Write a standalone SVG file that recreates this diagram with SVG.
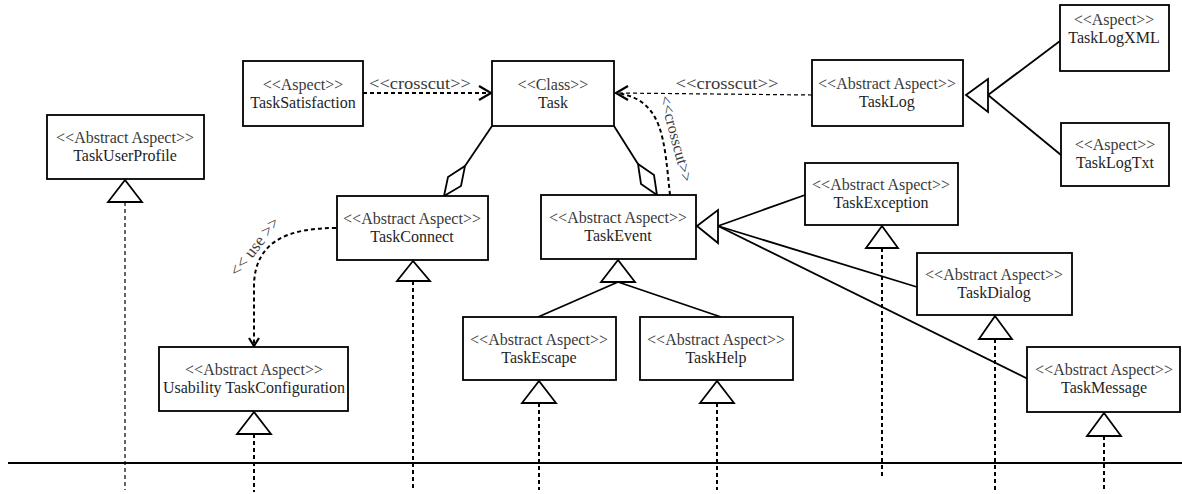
<svg xmlns="http://www.w3.org/2000/svg" width="1182" height="494" viewBox="0 0 1182 494">
<style>
.box{fill:#fff;stroke:#000;stroke-width:1.8}
.st{font-family:"Liberation Serif","Times New Roman",serif;font-size:16px;fill:#3a3a3a;text-anchor:middle}
.nm{font-family:"Liberation Serif","Times New Roman",serif;font-size:16px;fill:#1e1e1e;text-anchor:middle}
.lbl{font-family:"Liberation Serif","Times New Roman",serif;font-size:17px;fill:#3a3a3a;text-anchor:middle}
.solid{fill:none;stroke:#000;stroke-width:1.8}
.tri{fill:#fff;stroke:#000;stroke-width:1.8;stroke-linejoin:miter}
.dash{fill:none;stroke:#000;stroke-width:2;stroke-dasharray:4 3}
.dashthin{fill:none;stroke:#000;stroke-width:1.2;stroke-dasharray:4 3}
.head{fill:none;stroke:#000;stroke-width:2.2;stroke-linejoin:miter}
</style>

<g id="connectors">
  <!-- baseline -->
  <line class="solid" x1="8" y1="463" x2="1182" y2="463" stroke-width="2"/>

  <!-- crosscut TaskSatisfaction -> Task -->
  <line class="dash" x1="363" y1="93" x2="490" y2="93"/>
  <polyline class="head" points="479,86 491,93 479,100"/>
  <text class="lbl" x="420" y="89" textLength="102" lengthAdjust="spacingAndGlyphs">&lt;&lt;crosscut&gt;&gt;</text>

  <!-- crosscut TaskLog -> Task -->
  <line class="dashthin" x1="812" y1="95" x2="617" y2="93"/>
  <polyline class="head" points="628,86 616,93 628,100"/>
  <text class="lbl" x="727" y="89" textLength="103" lengthAdjust="spacingAndGlyphs">&lt;&lt;crosscut&gt;&gt;</text>

  <!-- crosscut TaskEvent -> Task (curved) -->
  <path class="dash" stroke-width="1.6" d="M670,195 C664,140 664,100 617,93"/>
  <text class="st" transform="translate(671,140) rotate(75)" x="0" y="0">&lt;&lt;crosscut&gt;&gt;</text>

  <!-- aggregation Task -> TaskConnect -->
  <line class="solid" x1="492" y1="126" x2="465" y2="166"/>
  <polygon class="tri" points="444,196 461,186 465,166 448,177"/>

  <!-- aggregation Task -> TaskEvent -->
  <line class="solid" x1="614" y1="126" x2="638" y2="164"/>
  <polygon class="tri" points="657,195 641,184 638,164 654,175"/>

  <!-- use TaskConnect -> Usability TaskConfiguration -->
  <path class="dash" d="M336,228 C290,228 255,240 254,285 L254,345"/>
  <polyline class="head" points="249,338 254,346 259,338"/>
  <text class="lbl" transform="translate(259,250) rotate(-52)" x="0" y="0">&lt;&lt; use &gt;&gt;</text>

  <!-- TaskLog generalization -->
  <line class="solid" x1="988" y1="95" x2="1060" y2="41"/>
  <line class="solid" x1="988" y1="95" x2="1061" y2="155"/>
  <polygon class="tri" points="966,95 988,79 988,112"/>

  <!-- TaskEvent generalization (right) -->
  <line class="solid" x1="718" y1="226" x2="805" y2="195"/>
  <line class="solid" x1="718" y1="226" x2="917" y2="287"/>
  <line class="solid" x1="718" y1="226" x2="1028" y2="379"/>
  <polygon class="tri" points="697,226 718,210 718,243"/>

  <!-- TaskEvent generalization (below) -->
  <line class="solid" x1="618" y1="282" x2="538" y2="317"/>
  <line class="solid" x1="618" y1="282" x2="721" y2="317"/>
  <polygon class="tri" points="618,260 601,282 635,282"/>

  <!-- realization stubs to baseline -->
  <line class="dashthin" x1="125" y1="202" x2="125" y2="490"/>
  <polygon class="tri" points="125,180 108,202 142,202"/>

  <line class="dash" x1="254" y1="434" x2="254" y2="492"/>
  <polygon class="tri" points="254,412 237,434 271,434"/>

  <line class="dash" x1="413" y1="281" x2="413" y2="490"/>
  <polygon class="tri" points="413,261 397,281 430,281"/>

  <line class="dash" x1="539" y1="403" x2="539" y2="490"/>
  <polygon class="tri" points="539,381 522,403 556,403"/>

  <line class="dash" x1="717" y1="403" x2="717" y2="490"/>
  <polygon class="tri" points="717,381 700,403 734,403"/>

  <line class="dash" x1="882" y1="248" x2="882" y2="478"/>
  <polygon class="tri" points="882,226 866,248 898,248"/>

  <line class="dash" x1="995" y1="339" x2="995" y2="490"/>
  <polygon class="tri" points="995,316 979,339 1012,339"/>

  <line class="dash" x1="1104" y1="436" x2="1104" y2="492"/>
  <polygon class="tri" points="1104,413 1087,436 1121,436"/>
</g>

<g id="TaskSatisfaction">
  <rect class="box" x="243" y="61" width="120" height="65"/>
  <text class="st" x="303" y="90">&lt;&lt;Aspect&gt;&gt;</text>
  <text class="nm" x="303" y="108">TaskSatisfaction</text>
</g>

<g id="Task">
  <rect class="box" x="492" y="61" width="122" height="65"/>
  <text class="st" x="553" y="90">&lt;&lt;Class&gt;&gt;</text>
  <text class="nm" x="553" y="108">Task</text>
</g>

<g id="TaskLog">
  <rect class="box" x="812" y="60" width="151" height="66"/>
  <text class="st" x="887" y="89">&lt;&lt;Abstract Aspect&gt;&gt;</text>
  <text class="nm" x="887" y="107">TaskLog</text>
</g>

<g id="TaskLogXML">
  <rect class="box" x="1060" y="5" width="109" height="66"/>
  <text class="st" x="1114" y="25">&lt;&lt;Aspect&gt;&gt;</text>
  <text class="nm" x="1114" y="43">TaskLogXML</text>
</g>

<g id="TaskLogTxt">
  <rect class="box" x="1061" y="123" width="108" height="63"/>
  <text class="st" x="1115" y="150">&lt;&lt;Aspect&gt;&gt;</text>
  <text class="nm" x="1115" y="168">TaskLogTxt</text>
</g>

<g id="TaskUserProfile">
  <rect class="box" x="47" y="115" width="157" height="64"/>
  <text class="st" x="125" y="143">&lt;&lt;Abstract Aspect&gt;&gt;</text>
  <text class="nm" x="125" y="161">TaskUserProfile</text>
</g>

<g id="TaskConnect">
  <rect class="box" x="337" y="196" width="151" height="64"/>
  <text class="st" x="412" y="224">&lt;&lt;Abstract Aspect&gt;&gt;</text>
  <text class="nm" x="412" y="242">TaskConnect</text>
</g>

<g id="TaskEvent">
  <rect class="box" x="541" y="195" width="155" height="64"/>
  <text class="st" x="618" y="223">&lt;&lt;Abstract Aspect&gt;&gt;</text>
  <text class="nm" x="618" y="241">TaskEvent</text>
</g>

<g id="TaskException">
  <rect class="box" x="805" y="163" width="153" height="62"/>
  <text class="st" x="881" y="190">&lt;&lt;Abstract Aspect&gt;&gt;</text>
  <text class="nm" x="881" y="208">TaskException</text>
</g>

<g id="TaskDialog">
  <rect class="box" x="917" y="253" width="155" height="62"/>
  <text class="st" x="994" y="280">&lt;&lt;Abstract Aspect&gt;&gt;</text>
  <text class="nm" x="994" y="298">TaskDialog</text>
</g>

<g id="TaskEscape">
  <rect class="box" x="463" y="317" width="153" height="63"/>
  <text class="st" x="539" y="345">&lt;&lt;Abstract Aspect&gt;&gt;</text>
  <text class="nm" x="539" y="363">TaskEscape</text>
</g>

<g id="TaskHelp">
  <rect class="box" x="640" y="317" width="153" height="63"/>
  <text class="st" x="716" y="345">&lt;&lt;Abstract Aspect&gt;&gt;</text>
  <text class="nm" x="716" y="363">TaskHelp</text>
</g>

<g id="UsabilityTaskConfiguration">
  <rect class="box" x="159" y="347" width="189" height="64"/>
  <text class="st" x="254" y="375">&lt;&lt;Abstract Aspect&gt;&gt;</text>
  <text class="nm" x="254" y="393">Usability TaskConfiguration</text>
</g>

<g id="TaskMessage">
  <rect class="box" x="1027" y="347" width="153" height="65"/>
  <text class="st" x="1104" y="375">&lt;&lt;Abstract Aspect&gt;&gt;</text>
  <text class="nm" x="1104" y="393">TaskMessage</text>
</g>
</svg>
